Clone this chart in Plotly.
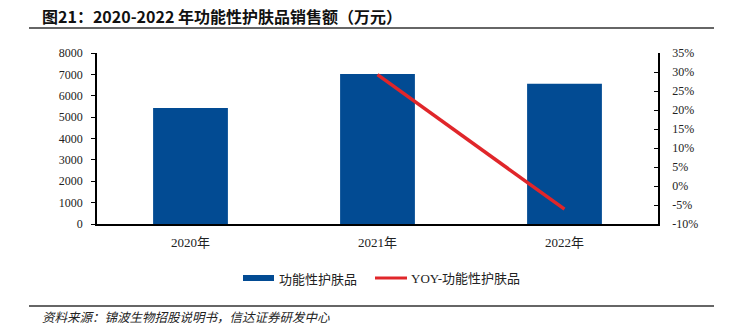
import plotly.graph_objects as go

categories = ["2020年", "2021年", "2022年"]
sales = [5430, 7020, 6560]
yoy_cats = ["2021年", "2022年"]
yoy = [29.3, -6.1]
left_ticks = [0, 1000, 2000, 3000, 4000, 5000, 6000, 7000, 8000]
right_ticks = [-10, -5, 0, 5, 10, 15, 20, 25, 30, 35]

BLUE = "#024B93"
RED = "#E0262A"
SERIF = "Liberation Serif, Times New Roman, serif"
CJK = "Noto Sans CJK SC, sans-serif"

fig = go.Figure()
fig.add_trace(go.Bar(x=categories, y=sales, marker=dict(color=BLUE, line=dict(width=0)),
                     width=0.4, name="功能性护肤品", showlegend=False))
fig.add_trace(go.Scatter(x=yoy_cats, y=yoy, mode="lines", yaxis="y2",
                         line=dict(color=RED, width=3.5), name="YOY-功能性护肤品", showlegend=False))

fig.update_layout(
    width=733, height=327,
    margin=dict(l=97, r=75, t=53, b=103),
    paper_bgcolor="white", plot_bgcolor="white",
    font=dict(family=SERIF, size=12, color="#222"),
    bargap=0.6,
    xaxis=dict(showline=True, linecolor="black", linewidth=1.5, ticks="", showgrid=False,
               ticklabelstandoff=6,
               tickfont=dict(family=SERIF + ", " + CJK, size=13, color="#222")),
    yaxis=dict(range=[0, 8000], tickvals=left_ticks, showgrid=False, zeroline=False,
               showline=True, linecolor="black", linewidth=1.5, ticks="outside", ticklen=4,
               tickcolor="black", tickfont=dict(family=SERIF, size=12, color="#222"),
               ticklabelstandoff=6),
    yaxis2=dict(range=[-10, 35], tickvals=right_ticks, ticktext=[f"{v}%" for v in right_ticks],
                overlaying="y", side="right", showgrid=False, zeroline=False,
                showline=True, linecolor="black", linewidth=1.5, ticks="inside", ticklen=4,
                tickcolor="black", tickfont=dict(family=SERIF, size=12, color="#222"),
                ticklabelstandoff=10),
)

# title and rules
fig.add_annotation(x=40, y=16, xref="paper", yref="paper", text="<b>图21：2020-2022 年功能性护肤品销售额（万元）</b>",
                   showarrow=False, xanchor="left", yanchor="middle",
                   font=dict(family=CJK, size=16, color="#111"))
fig.add_shape(type="line", xref="paper", yref="paper", x0=29, x1=714, y0=28, y1=28,
              line=dict(color="#666", width=2))
fig.add_shape(type="line", xref="paper", yref="paper", x0=29, x1=714, y0=306, y1=306,
              line=dict(color="#666", width=2))
fig.add_annotation(x=40, y=316, xref="paper", yref="paper",
                   text="<i>资料来源：锦波生物招股说明书，信达证券研发中心</i>",
                   showarrow=False, xanchor="left", yanchor="middle",
                   font=dict(family=CJK, size=12.5, color="#222"))

# legend
fig.add_shape(type="rect", xref="paper", yref="paper", x0=243, x1=274, y0=275, y1=281,
              fillcolor=BLUE, line=dict(width=0))
fig.add_annotation(x=277, y=278, xref="paper", yref="paper", text="功能性护肤品",
                   showarrow=False, xanchor="left", yanchor="middle",
                   font=dict(family=CJK, size=13, color="#222"))
fig.add_shape(type="line", xref="paper", yref="paper", x0=375, x1=407, y0=278, y1=278,
              line=dict(color=RED, width=3))
fig.add_annotation(x=409, y=278, xref="paper", yref="paper", text="YOY-功能性护肤品",
                   showarrow=False, xanchor="left", yanchor="middle",
                   font=dict(family=SERIF + ", " + CJK, size=13, color="#222"))

# convert pixel positions for paper-ref items
pw = 733 - 97 - 75
ph = 327 - 53 - 103
for ann in fig.layout.annotations:
    ann.x = (ann.x - 97) / pw
    ann.y = (327 - 103 - ann.y) / ph
for shp in fig.layout.shapes:
    shp.x0 = (shp.x0 - 97) / pw
    shp.x1 = (shp.x1 - 97) / pw
    shp.y0 = (327 - 103 - shp.y0) / ph
    shp.y1 = (327 - 103 - shp.y1) / ph

fig.write_html("out.html")
